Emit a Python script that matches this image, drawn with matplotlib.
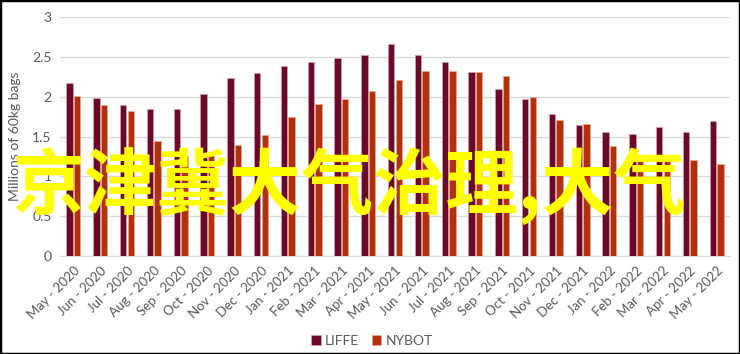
import numpy as np
import matplotlib.pyplot as plt
from matplotlib.patches import Rectangle

months = ["May - 2020", "Jun - 2020", "Jul - 2020", "Aug - 2020", "Sep - 2020",
          "Oct - 2020", "Nov - 2020", "Dec - 2020", "Jan - 2021", "Feb - 2021",
          "Mar - 2021", "Apr - 2021", "May - 2021", "Jun - 2021", "Jul - 2021",
          "Aug - 2021", "Sep - 2021", "Oct - 2021", "Nov - 2021", "Dec - 2021",
          "Jan - 2022", "Feb - 2022", "Mar - 2022", "Apr - 2022", "May - 2022"]
liffe = [2.17, 1.98, 1.89, 1.84, 1.85, 2.03, 2.24, 2.30, 2.39, 2.43, 2.49, 2.52, 2.66,
         2.52, 2.43, 2.31, 2.09, 1.97, 1.78, 1.65, 1.56, 1.53, 1.62, 1.56, 1.70]
nybot = [2.01, 1.90, 1.82, 1.44, 1.25, 1.30, 1.39, 1.52, 1.74, 1.91, 1.97, 2.07, 2.21,
         2.32, 2.32, 2.31, 2.26, 2.00, 1.71, 1.66, 1.38, 1.22, 1.23, 1.20, 1.16]
yticks = [0, 0.5, 1, 1.5, 2, 2.5, 3]
ytick_labels = ["0", "0.5", "1", "1.5", "2", "2.5", "3"]

plt.rcParams['font.family'] = ['Lato', 'DejaVu Sans']
grey = "#595959"

fig = plt.figure(figsize=(7.4, 3.54), dpi=100)
ax = fig.add_axes([60/740, 1 - 256/354, 670/740, 239/354])

x = np.arange(len(months))
w = 0.235
ax.bar(x - 0.14, liffe, w, color="#6B0A26", edgecolor="#D9A0AC", linewidth=0.5, label="LIFFE", zorder=3)
ax.bar(x + 0.14, nybot, w, color="#B3300C", edgecolor="#E8A890", linewidth=0.5, label="NYBOT", zorder=3)

ax.set_xlim(-0.5, len(months) - 0.5)
ax.set_ylim(0, 3)
ax.set_yticks(yticks)
ax.set_yticklabels(ytick_labels, color=grey, fontsize=10)
ax.set_xticks(x)
ax.set_xticklabels(months, rotation=45, ha="right", rotation_mode="anchor", color=grey, fontsize=9.5)
ax.tick_params(length=0, pad=6)
ax.yaxis.grid(True, color="#D9D9D9", linewidth=1, zorder=0)
for s in ["top", "right", "left"]:
    ax.spines[s].set_visible(False)
ax.spines["bottom"].set_color("#D9D9D9")
ax.set_ylabel("Millions of 60kg bags", color=grey, fontsize=10, labelpad=8)

fig.legend(loc="center", bbox_to_anchor=(372/740, 1 - 341/354), ncol=2, frameon=False,
           fontsize=10, labelcolor=grey, handlelength=0.7, handleheight=0.7,
           handletextpad=0.3, columnspacing=0.9)

fig.text(12/740, 1 - 186/354, "京津冀大气治理,大气", color="#FFFF00", fontsize=52,
         fontweight="bold", family=["Noto Sans CJK SC", "DejaVu Sans"],
         ha="left", va="center", zorder=10)

fig.patches.append(Rectangle((0, 0), 1, 1, transform=fig.transFigure, fill=False,
                             edgecolor="black", linewidth=2.5))

fig.savefig("out.png", dpi=100)
